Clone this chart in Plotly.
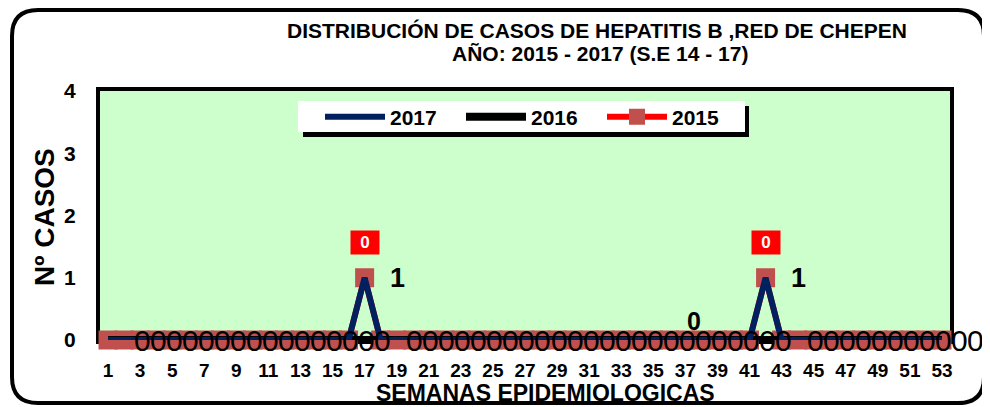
import plotly.graph_objects as go

# ---------------- data ----------------
semanas = list(range(1, 54))
casos_2017 = [0, 0, 0, 0, 0, 0, 0, 0, 0, 0, 0, 0, 0, 0, 0, 0, 1, 0, 0, 0,
              0, 0, 0, 0, 0, 0, 0, 0, 0, 0, 0, 0, 0, 0, 0, 0, 0, 0, 0, 0,
              0, 1, 0, 0, 0, 0, 0, 0, 0, 0, 0, 0, 0]
casos_2016 = [0, 0, 0, 0, 0, 0, 0, 0, 0, 0, 0, 0, 0, 0, 0, 0, 0, 0, 0, 0,
              0, 0, 0, 0, 0, 0, 0, 0, 0, 0, 0, 0, 0, 0, 0, 0, 0, 0, 0, 0,
              0, 0, 0, 0, 0, 0, 0, 0, 0, 0, 0, 0, 0]
casos_2015 = [0, 0, 0, 0, 0, 0, 0, 0, 0, 0, 0, 0, 0, 0, 0, 0, 1, 0, 0, 0,
              0, 0, 0, 0, 0, 0, 0, 0, 0, 0, 0, 0, 0, 0, 0, 0, 0, 0, 0, 0,
              0, 1, 0, 0, 0, 0, 0, 0, 0, 0, 0, 0, 0]
etiquetas_2015 = {17: "0", 42: "0"}      # red-box labels shown in the original
etiqueta_2016 = {36: "0"}                # single bold label of 2016
tick_semanas = list(range(1, 54, 2))
y_ticks = [0, 1, 2, 3, 4]

titulo_1 = "DISTRIBUCIÓN DE CASOS DE HEPATITIS B ,RED DE CHEPEN"
titulo_2 = "AÑO: 2015 - 2017 (S.E 14 - 17)"
titulo_y = "Nº CASOS"
titulo_x = "SEMANAS EPIDEMIOLOGICAS"

# ---------------- layout geometry ----------------
OX, OY = 8, 8                      # page body margin
W, H = 982, 399
L, T = 92, 83
R = W - (950 - OX)
B = H - (340 - OY)
PW, PH = W - L - R, H - T - B
FONT = "Arial, Liberation Sans, sans-serif"


def px(x):
    return (x - OX - L) / PW


def py(y):
    return (H - B - (y - OY)) / PH


fig = go.Figure()

fig.add_trace(go.Scatter(
    x=semanas, y=casos_2015, name="2015", mode="lines+markers",
    line=dict(color="#FF0000", width=6),
    marker=dict(symbol="square", size=19, color="#C0504D"),
    cliponaxis=False,
))
fig.add_trace(go.Scatter(
    x=semanas, y=casos_2016, name="2016", mode="lines",
    line=dict(color="#000000", width=8),
    cliponaxis=False,
))
fig.add_trace(go.Scatter(
    x=semanas, y=casos_2017, name="2017", mode="lines",
    line=dict(color="#002060", width=6),
    cliponaxis=False,
))

annotations = []
# 2017 value labels (to the right)
for s, v in zip(semanas, casos_2017):
    if v == 0:
        annotations.append(dict(
            x=s, y=v, xref="x", yref="y", text=str(v), showarrow=False,
            xshift=34, font=dict(family=FONT, size=30, color="#000000"),
        ))
    else:
        annotations.append(dict(
            x=s, y=v, xref="x", yref="y", text="<b>%d</b>" % v, showarrow=False,
            xshift=33, font=dict(family=FONT, size=27, color="#000000"),
        ))
# 2015 red labels
for s, v in zip(semanas, casos_2015):
    if s in etiquetas_2015:
        annotations.append(dict(
            x=s, y=v, xref="x", yref="y", text="<b>%s</b>" % etiquetas_2015[s],
            showarrow=False, yshift=35, bgcolor="#FF0000", width=22, height=17,
            borderpad=3, font=dict(family=FONT, size=17, color="#FFFFFF"),
        ))
# 2016 single label
for s, v in zip(semanas, casos_2016):
    if s in etiqueta_2016:
        annotations.append(dict(
            x=s, y=v, xref="x", yref="y", text="<b>%s</b>" % etiqueta_2016[s],
            showarrow=False, xshift=25, yshift=19,
            font=dict(family=FONT, size=25, color="#000000"),
        ))

# titles
annotations.append(dict(
    x=px(597), y=py(30), xref="paper", yref="paper", xanchor="center", yanchor="middle",
    text="<b>%s</b>" % titulo_1, showarrow=False,
    font=dict(family=FONT, size=21, color="#000000"),
))
annotations.append(dict(
    x=px(600), y=py(53), xref="paper", yref="paper", xanchor="center", yanchor="middle",
    text="<b>%s</b>" % titulo_2, showarrow=False,
    font=dict(family=FONT, size=21, color="#000000"),
))
annotations.append(dict(
    x=px(44), y=py(217), xref="paper", yref="paper", xanchor="center", yanchor="middle",
    text="<b>%s</b>" % titulo_y, textangle=-90, showarrow=False,
    font=dict(family=FONT, size=28, color="#000000"),
))
annotations.append(dict(
    x=px(545), y=py(393), xref="paper", yref="paper", xanchor="center", yanchor="middle",
    text="<b>%s</b>" % titulo_x, showarrow=False,
    font=dict(family=FONT, size=23, color="#000000"),
))

# outer rounded border + legend box with shadow
x0, x1, y0, y1, r = 12, 984, 10, 403, 26
rx, ry = r / PW, r / PH
X0, X1, Y0, Y1 = px(x0), px(x1), py(y0), py(y1)
path = (f"M{X0+rx},{Y0} L{X1-rx},{Y0} Q{X1},{Y0} {X1},{Y0-ry} "
        f"L{X1},{Y1+ry} Q{X1},{Y1} {X1-rx},{Y1} "
        f"L{X0+rx},{Y1} Q{X0},{Y1} {X0},{Y1+ry} "
        f"L{X0},{Y0-ry} Q{X0},{Y0} {X0+rx},{Y0} Z")
shapes = [
    dict(type="path", path=path, xref="paper", yref="paper",
         line=dict(color="#000000", width=4), layer="above"),
    dict(type="rect", xref="paper", yref="paper", x0=px(303), x1=px(749),
         y0=py(106), y1=py(137), fillcolor="#000000", line=dict(width=0), layer="above"),
    dict(type="rect", xref="paper", yref="paper", x0=px(298), x1=px(745),
         y0=py(101), y1=py(132), fillcolor="#FFFFFF", line=dict(width=0), layer="above"),
]

fig.update_layout(
    width=W, height=H,
    margin=dict(l=L, r=R, t=T, b=B),
    paper_bgcolor="#FFFFFF",
    plot_bgcolor="#CCFFCC",
    font=dict(family=FONT, color="#000000"),
    showlegend=True,
    legend=dict(
        orientation="h", x=px(320), y=py(117), xanchor="left", yanchor="middle",
        bgcolor="rgba(0,0,0,0)", borderwidth=0, traceorder="reversed",
        font=dict(family=FONT, size=21, color="#000000", weight="bold"),
        entrywidth=66, entrywidthmode="pixels", itemwidth=60,
    ),
    xaxis=dict(
        range=[0.5, 53.5], tickmode="array", tickvals=tick_semanas,
        ticktext=[str(t) for t in tick_semanas],
        showgrid=False, zeroline=False,
        showline=True, mirror=True, linecolor="#000000", linewidth=4,
        ticks="outside", ticklen=10, tickcolor="rgba(0,0,0,0)",
        tickfont=dict(family=FONT, size=19, color="#000000", weight="bold"),
        layer="below traces",
    ),
    yaxis=dict(
        range=[0, 4], tickmode="array", tickvals=y_ticks,
        showgrid=False, zeroline=False,
        showline=True, mirror=True, linecolor="#000000", linewidth=4,
        ticks="outside", ticklen=16, tickcolor="rgba(0,0,0,0)",
        tickfont=dict(family=FONT, size=21, color="#000000", weight="bold"),
        layer="below traces",
    ),
    annotations=annotations,
    shapes=shapes,
)

fig.write_html("out.html")
